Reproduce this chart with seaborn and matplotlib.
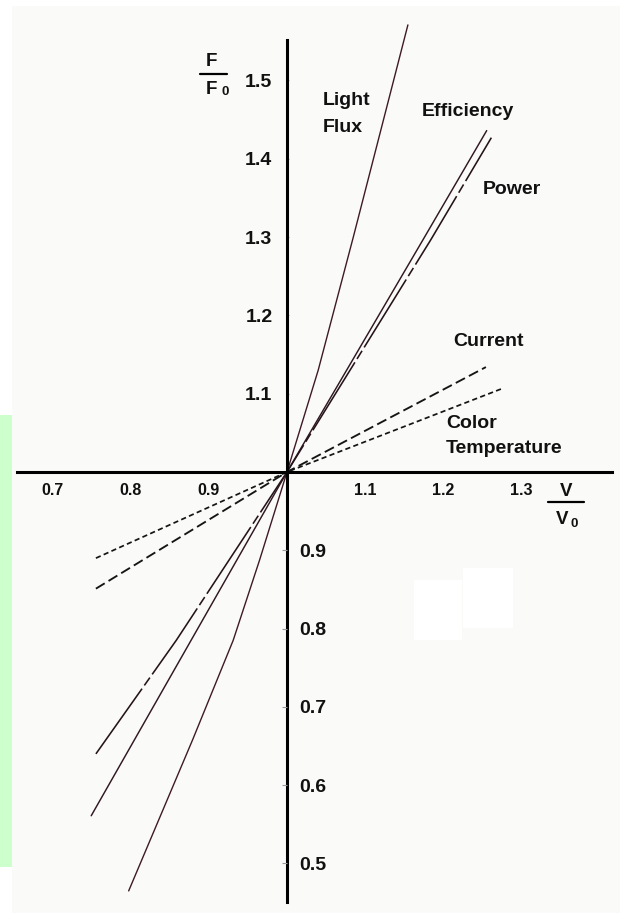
import matplotlib
matplotlib.use("Agg")
import matplotlib.pyplot as plt
import numpy as np
import pandas as pd
import seaborn as sns
from matplotlib.lines import Line2D
from matplotlib.patches import Rectangle

# ---------------- data ----------------
series_names = ["Light Flux", "Efficiency", "Power", "Current", "Color Temperature"]

light_flux_v = [0.797, 0.879, 0.931, 0.965, 1.000, 1.040, 1.085, 1.155]
light_flux_f = [0.465, 0.658, 0.785, 0.888, 1.000, 1.130, 1.300, 1.571]

efficiency_v = [0.749, 0.877, 1.000, 1.174, 1.256]
efficiency_f = [0.561, 0.785, 1.000, 1.296, 1.436]

power_v = [0.755, 0.858, 1.000, 1.184, 1.262]
power_f = [0.640, 0.785, 1.000, 1.296, 1.427]

current_v = [0.755, 1.000, 1.255]
current_f = [0.851, 1.000, 1.134]

color_temp_v = [0.755, 1.000, 1.277]
color_temp_f = [0.890, 1.000, 1.107]

x_ticks = [0.7, 0.8, 0.9, 1.1, 1.2, 1.3]
y_ticks_upper = [1.1, 1.2, 1.3, 1.4, 1.5]
y_ticks_lower = [0.5, 0.6, 0.7, 0.8, 0.9]

# ---------------- styling ----------------
sns.set_style("white")
plt.rcParams["font.family"] = ["Liberation Sans", "DejaVu Sans"]
plt.rcParams["font.weight"] = "bold"

W, H = 620, 913
X0_PX, Y0_PX = 287, 472          # pixel position of (1.0, 1.0)
SX, SY = 780.0, 783.0            # pixels per data unit


def px2x(px):
    return 1.0 + (px - X0_PX) / SX


def px2y(py):
    return 1.0 + (Y0_PX - py) / SY


df = pd.concat([
    pd.DataFrame({"V": light_flux_v, "F": light_flux_f, "series": "Light Flux"}),
    pd.DataFrame({"V": efficiency_v, "F": efficiency_f, "series": "Efficiency"}),
    pd.DataFrame({"V": power_v, "F": power_f, "series": "Power"}),
    pd.DataFrame({"V": current_v, "F": current_f, "series": "Current"}),
    pd.DataFrame({"V": color_temp_v, "F": color_temp_f, "series": "Color Temperature"}),
], ignore_index=True)

palette = {
    "Light Flux": "#3e1a26",
    "Efficiency": "#301822",
    "Power": "#24141a",
    "Current": "#151515",
    "Color Temperature": "#151515",
}
dashes = {
    "Light Flux": "",
    "Efficiency": "",
    "Power": (50, 2.5, 6, 2.5),
    "Current": (5.5, 2.4),
    "Color Temperature": (3.0, 1.9),
}
sizes = {
    "Light Flux": 1.0,
    "Efficiency": 1.05,
    "Power": 1.15,
    "Current": 1.35,
    "Color Temperature": 1.25,
}

fig = plt.figure(figsize=(W / 100, H / 100), dpi=100)
fig.patch.set_facecolor("white")

# background panels (as in the scanned picture)
fig.add_artist(Rectangle((12 / W, 0), (W - 12) / W, (H - 6) / H, transform=fig.transFigure,
                         facecolor="#fafaf8", edgecolor="none", zorder=-5))
fig.add_artist(Rectangle((0, (H - 867) / H), 12 / W, (867 - 415) / H, transform=fig.transFigure,
                         facecolor="#ccffcc", edgecolor="none", zorder=-4))
fig.add_artist(Rectangle((414 / W, (H - 640) / H), 48 / W, 60 / H, transform=fig.transFigure,
                         facecolor="white", edgecolor="none", zorder=-4))
fig.add_artist(Rectangle((463 / W, (H - 628) / H), 50 / W, 60 / H, transform=fig.transFigure,
                         facecolor="white", edgecolor="none", zorder=-4))

ax = fig.add_axes([0, 0, 1, 1])
ax.set_facecolor("none")
xlim = (px2x(0), px2x(W))
ylim = (px2y(H), px2y(0))

sns.lineplot(data=df, x="V", y="F", hue="series", style="series", size="series",
             palette=palette, dashes=dashes, sizes=sizes, hue_order=series_names,
             style_order=series_names, size_order=series_names,
             estimator=None, sort=False, legend=False, ax=ax, zorder=3)

ax.set_xlim(*xlim)
ax.set_ylim(*ylim)
ax.set_xlabel("")
ax.set_ylabel("")

# axes crossing at (1, 1)
for side in ["top", "right"]:
    ax.spines[side].set_visible(False)
ax.spines["left"].set_position(("data", 1.0))
ax.spines["bottom"].set_position(("data", 1.0))
ax.spines["left"].set_bounds(px2y(902), px2y(40))
ax.spines["bottom"].set_bounds(px2x(17), px2x(612))
for side in ["left", "bottom"]:
    ax.spines[side].set_linewidth(2.2)
    ax.spines[side].set_color("black")
    ax.spines[side].set_zorder(4)

ax.set_xticks(x_ticks)
ax.set_xticklabels([f"{t:.1f}" for t in x_ticks])
ax.tick_params(axis="x", direction="in", length=4.3, width=0.8, color="#999999",
               pad=8.0, labelsize=11.5, labelcolor="#111111")
ax.set_yticks(y_ticks_upper)
ax.set_yticklabels([f"{t:.1f}" for t in y_ticks_upper])
ax.tick_params(axis="y", direction="in", length=1.5, width=0.8, color="#aaaaaa",
               pad=10.5, labelsize=14, labelcolor="#111111")
for lab in ax.get_xticklabels() + ax.get_yticklabels():
    lab.set_fontweight("bold")

ax2 = ax.twinx()
ax2.set_facecolor("none")
ax2.set_ylim(*ylim)
for side in ["top", "left", "bottom"]:
    ax2.spines[side].set_visible(False)
ax2.spines["right"].set_position(("data", 1.0))
ax2.spines["right"].set_visible(False)
ax2.set_yticks(y_ticks_lower)
ax2.set_yticklabels([f"{t:.1f}" for t in y_ticks_lower])
ax2.tick_params(axis="y", direction="in", length=3.6, width=0.8, color="#999999",
                pad=9.0, labelsize=14, labelcolor="#111111")
for lab in ax2.get_yticklabels():
    lab.set_fontweight("bold")

# series labels
lab_kw = dict(fontsize=14, fontweight="bold", ha="left", va="center", color="#111111")
ax.text(px2x(323), px2y(101), "Light", **lab_kw)
ax.text(px2x(323), px2y(127), "Flux", **lab_kw)
ax.text(px2x(422), px2y(112), "Efficiency", **lab_kw)
ax.text(px2x(483), px2y(190), "Power", **lab_kw)
ax.text(px2x(453), px2y(342), "Current", **lab_kw)
ax.text(px2x(446), px2y(424), "Color", **lab_kw)
ax.text(px2x(446), px2y(449), "Temperature", **lab_kw)

# axis names as fractions F/F0 and V/V0
frac_kw = dict(fontsize=13.5, fontweight="bold", ha="center", va="center", color="#111111")
ax.text(px2x(211), px2y(62), "F", **frac_kw)
fig.add_artist(Line2D([200 / W, 227 / W], [1 - 74 / H, 1 - 74 / H], transform=fig.transFigure,
                      color="black", linewidth=1.6))
ax.text(px2x(211), px2y(89), "F", **frac_kw)
ax.text(px2x(225), px2y(92), "0", fontsize=9.5, fontweight="bold", ha="center", va="center",
        color="#111111")

ax.text(px2x(566), px2y(492), "V", **frac_kw)
fig.add_artist(Line2D([548 / W, 584 / W], [1 - 502 / H, 1 - 502 / H], transform=fig.transFigure,
                      color="black", linewidth=1.6))
ax.text(px2x(562), px2y(520), "V", **frac_kw)
ax.text(px2x(574), px2y(524), "0", fontsize=9.5, fontweight="bold", ha="center", va="center",
        color="#111111")

fig.savefig("out.png", dpi=100, facecolor=fig.get_facecolor())
